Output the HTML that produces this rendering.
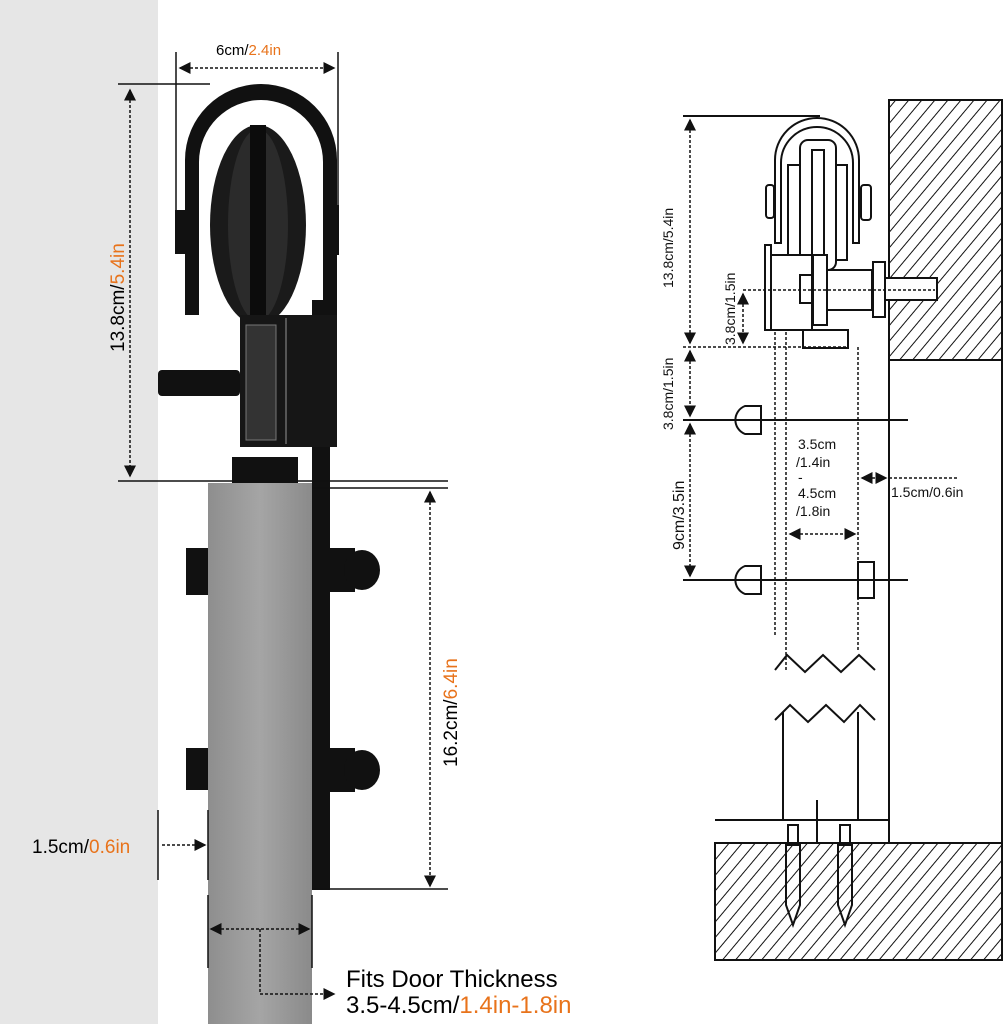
<!DOCTYPE html>
<html><head><style>
body{margin:0;background:#fff;width:1006px;height:1024px;overflow:hidden}
svg{display:block}
text{font-family:"Liberation Sans",sans-serif}
</style></head><body>
<svg width="1006" height="1024" viewBox="0 0 1006 1024">
<defs>
<pattern id="h" width="10" height="10" patternUnits="userSpaceOnUse" patternTransform="rotate(40)">
<line x1="0" y1="0" x2="0" y2="10" stroke="#111" stroke-width="2"/>
</pattern>
<marker id="a" markerWidth="8" markerHeight="8" refX="7" refY="4" orient="auto"><path d="M0,0L8,4L0,8z" fill="#111"/></marker>
<marker id="b" markerWidth="8" markerHeight="8" refX="1" refY="4" orient="auto"><path d="M8,0L0,4L8,8z" fill="#111"/></marker>
<linearGradient id="w" x1="0" x2="1"><stop offset="0" stop-color="#8e8e8e"/><stop offset="0.5" stop-color="#a5a5a5"/><stop offset="1" stop-color="#8a8a8a"/></linearGradient>
</defs>
<rect x="0" y="0" width="158" height="1024" fill="#e6e6e6"/>
<rect x="208" y="483" width="104" height="541" fill="url(#w)"/>
<rect x="312" y="300" width="18" height="590" fill="#111"/>
<path d="M185,315 L185,160 A76,76 0 0 1 337,160 L337,315 L323,315 L323,162 A62,62 0 0 0 199,162 L199,315 Z" fill="#111"/>
<ellipse cx="258" cy="225" rx="48" ry="100" fill="#1a1a1a"/>
<ellipse cx="258" cy="225" rx="30" ry="96" fill="#2b2b2b"/>
<rect x="250" y="125" width="16" height="200" fill="#0c0c0c"/>
<rect x="175" y="210" width="22" height="44" fill="#111"/>
<rect x="325" y="205" width="14" height="50" fill="#111"/>
<rect x="240" y="315" width="97" height="132" fill="#161616"/>
<rect x="246" y="325" width="30" height="115" fill="#333" stroke="#777"/>
<rect x="285" y="318" width="2" height="126" fill="#555"/>
<rect x="158" y="370" width="82" height="26" rx="4" fill="#111"/>
<rect x="232" y="457" width="66" height="26" fill="#111"/>
<rect x="186" y="548" width="22" height="47" fill="#111"/>
<rect x="186" y="748" width="22" height="42" fill="#111"/>
<g fill="#111"><rect x="330" y="548" width="25" height="44"/><ellipse cx="362" cy="570" rx="18" ry="20"/>
<rect x="330" y="748" width="25" height="44"/><ellipse cx="362" cy="770" rx="18" ry="20"/></g>
<g stroke="#111" stroke-width="1.5" fill="none">
<line x1="118" y1="84" x2="210" y2="84"/>
<line x1="118" y1="481" x2="448" y2="481"/>
<line x1="176" y1="52" x2="176" y2="230"/>
<line x1="338" y1="52" x2="338" y2="230"/>
<line x1="312" y1="488" x2="448" y2="488"/>
<line x1="312" y1="889" x2="448" y2="889"/>
<line x1="158" y1="810" x2="158" y2="880"/>
<line x1="208" y1="810" x2="208" y2="880"/>
<line x1="208" y1="895" x2="208" y2="968"/>
<line x1="312" y1="895" x2="312" y2="968"/>
</g>
<g stroke="#111" stroke-width="1.5" stroke-dasharray="3,2" fill="none">
<line x1="180" y1="68" x2="334" y2="68" marker-start="url(#b)" marker-end="url(#a)"/>
<line x1="130" y1="90" x2="130" y2="476" marker-start="url(#b)" marker-end="url(#a)"/>
<line x1="430" y1="492" x2="430" y2="886" marker-start="url(#b)" marker-end="url(#a)"/>
<line x1="162" y1="845" x2="205" y2="845" marker-end="url(#a)"/>
<line x1="211" y1="929" x2="309" y2="929" marker-start="url(#b)" marker-end="url(#a)"/>
<polyline points="260,929 260,994 334,994" marker-end="url(#a)"/>
</g>
<text x="216" y="55" font-size="15">6cm/<tspan fill="#e8731b">2.4in</tspan></text>
<text transform="translate(124,352) rotate(-90)" font-size="19">13.8cm/<tspan fill="#e8731b">5.4in</tspan></text>
<text transform="translate(457,767) rotate(-90)" font-size="19">16.2cm/<tspan fill="#e8731b">6.4in</tspan></text>
<text x="32" y="853" font-size="19">1.5cm/<tspan fill="#e8731b">0.6in</tspan></text>
<text x="346" y="987" font-size="24">Fits Door Thickness</text>
<text x="346" y="1013" font-size="24">3.5-4.5cm/<tspan fill="#e8731b">1.4in-1.8in</tspan></text>

<rect x="889" y="100" width="113" height="260" fill="url(#h)" stroke="#111" stroke-width="2"/>
<g stroke="#111" stroke-width="2" fill="none">
<line x1="889" y1="360" x2="889" y2="843"/>
<line x1="1002" y1="360" x2="1002" y2="843"/>
</g>
<rect x="715" y="843" width="287" height="117" fill="url(#h)" stroke="#111" stroke-width="2"/>
<g stroke="#111" stroke-width="2" fill="#fff">
<path d="M775,243 L775,160 A42,42 0 0 1 859,160 L859,243 L853,243 L853,163 A36,36 0 0 0 781,163 L781,243Z"/>
<rect x="766" y="185" width="8" height="33" rx="3"/>
<rect x="861" y="185" width="10" height="35" rx="3"/>
<rect x="788" y="165" width="14" height="95"/>
<rect x="833" y="165" width="14" height="95"/>
<rect x="800" y="140" width="36" height="130" rx="8"/>
<rect x="812" y="150" width="12" height="118"/>
<rect x="765" y="245" width="6" height="85"/>
<path d="M771,330 L771,255 L812,255 L812,330Z"/>
<rect x="813" y="255" width="14" height="70"/>
<rect x="800" y="275" width="12" height="28"/>
<rect x="827" y="270" width="45" height="40"/>
<rect x="873" y="262" width="12" height="55"/>
<rect x="885" y="278" width="52" height="22"/>
<rect x="803" y="330" width="45" height="18"/>
<path d="M761,406 L745,406 A15,15 0 0 0 745,434 L761,434Z"/>
<path d="M761,566 L745,566 A15,15 0 0 0 745,594 L761,594Z"/>
<rect x="858" y="562" width="16" height="36"/>
<rect x="788" y="825" width="10" height="18"/>
<rect x="840" y="825" width="10" height="18"/>
</g>
<g stroke="#111" stroke-width="2" fill="none">
<line x1="683" y1="116" x2="820" y2="116"/>
<line x1="683" y1="420" x2="908" y2="420"/>
<line x1="683" y1="580" x2="908" y2="580"/>
<polyline points="775,670 787,655 805,672 823,655 841,672 859,655 875,670"/>
<polyline points="775,720 790,705 808,722 826,705 844,722 860,705 875,720"/>
<line x1="783" y1="712" x2="783" y2="820"/><line x1="858" y1="712" x2="858" y2="820"/>
<line x1="715" y1="820" x2="889" y2="820"/>
<line x1="817" y1="800" x2="817" y2="843"/>
<path d="M786,845 L786,905 L793,925 L800,905 L800,845Z"/>
<path d="M838,845 L838,905 L845,925 L852,905 L852,845Z"/>
</g>
<g stroke="#111" stroke-width="1.5" stroke-dasharray="3,2" fill="none">
<line x1="683" y1="347" x2="847" y2="347"/>
<line x1="743" y1="290" x2="935" y2="290"/>
<line x1="690" y1="120" x2="690" y2="343" marker-start="url(#b)" marker-end="url(#a)"/>
<line x1="743" y1="294" x2="743" y2="343" marker-start="url(#b)" marker-end="url(#a)"/>
<line x1="690" y1="351" x2="690" y2="416" marker-start="url(#b)" marker-end="url(#a)"/>
<line x1="690" y1="424" x2="690" y2="576" marker-start="url(#b)" marker-end="url(#a)"/>
<line x1="775" y1="332" x2="775" y2="635"/><line x1="786" y1="332" x2="786" y2="670"/>
<line x1="858" y1="347" x2="858" y2="650"/>
<line x1="790" y1="534" x2="855" y2="534" marker-start="url(#b)" marker-end="url(#a)"/>
<line x1="862" y1="478" x2="886" y2="478" marker-start="url(#b)" marker-end="url(#a)"/>
<line x1="889" y1="478" x2="958" y2="478"/>
</g>
<g font-size="14" fill="#111">
<text transform="translate(673,288) rotate(-90)">13.8cm/5.4in</text>
<text transform="translate(735,345) rotate(-90)">3.8cm/1.5in</text>
<text transform="translate(673,430) rotate(-90)">3.8cm/1.5in</text>
<text transform="translate(684,550) rotate(-90)" font-size="16">9cm/3.5in</text>
<text x="798" y="449">3.5cm</text><text x="796" y="467">/1.4in</text>
<text x="798" y="482">-</text><text x="798" y="498">4.5cm</text><text x="796" y="516">/1.8in</text>
<text x="891" y="497">1.5cm/0.6in</text>
</g>
</svg>
</body></html>
